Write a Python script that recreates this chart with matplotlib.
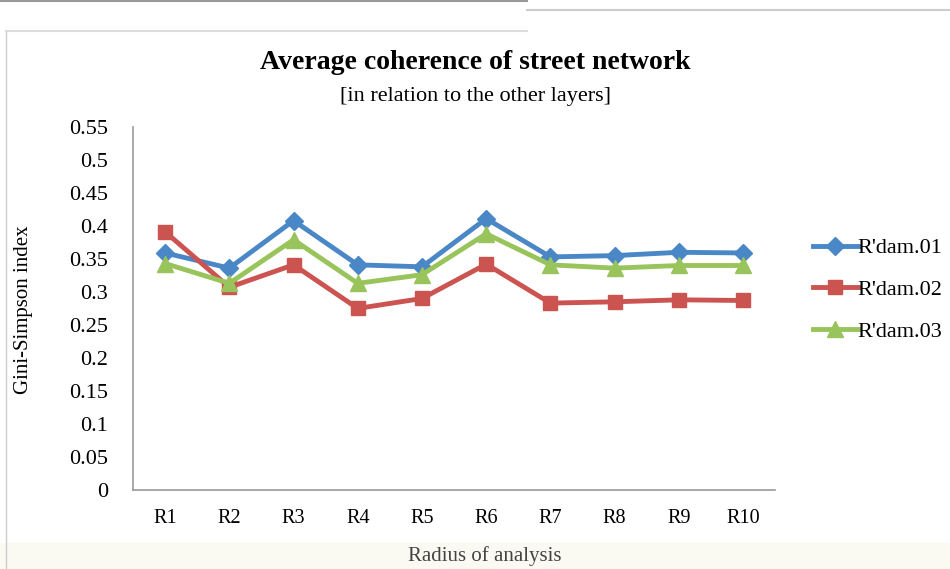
import matplotlib.pyplot as plt
from matplotlib.patches import Rectangle
from matplotlib.lines import Line2D

# Data
radii = ['R1', 'R2', 'R3', 'R4', 'R5', 'R6', 'R7', 'R8', 'R9', 'R10']
rdam01 = [0.359, 0.336, 0.408, 0.341, 0.338, 0.411, 0.353, 0.355, 0.360, 0.359]
rdam02 = [0.391, 0.307, 0.341, 0.275, 0.290, 0.342, 0.283, 0.285, 0.288, 0.287]
rdam03 = [0.343, 0.313, 0.379, 0.313, 0.326, 0.388, 0.341, 0.336, 0.340, 0.340]
yticks = [0, 0.05, 0.1, 0.15, 0.2, 0.25, 0.3, 0.35, 0.4, 0.45, 0.5, 0.55]

plt.rcParams['font.family'] = ['Liberation Serif', 'DejaVu Serif']

fig = plt.figure(figsize=(9.5, 5.69), dpi=100)

# background: frame and light footer strip
fig.patches.append(Rectangle((0, 0), 1, 0.045, transform=fig.transFigure,
                             facecolor='#fafaf2', edgecolor='none', zorder=-2))
fig.add_artist(Line2D([0.006, 0.006], [0, 0.945], transform=fig.transFigure,
                      color='#cccccc', lw=1))
fig.add_artist(Line2D([0.006, 0.555], [0.945, 0.945], transform=fig.transFigure,
                      color='#dddddd', lw=1.5))
fig.add_artist(Line2D([0.555, 1], [0.982, 0.982], transform=fig.transFigure,
                      color='#cccccc', lw=1.5))
fig.add_artist(Line2D([0, 0.555], [0.998, 0.998], transform=fig.transFigure,
                      color='#999999', lw=1.5))

ax = fig.add_axes([0.14, 0.139, 0.676, 0.638])
x = range(len(radii))

ax.plot(x, rdam01, color='#4a87c6', lw=3.5, marker='D', ms=9, label="R'dam.01")
ax.plot(x, rdam02, color='#cc5450', lw=3.5, marker='s', ms=10, label="R'dam.02")
ax.plot(x, rdam03, color='#99c45c', lw=3.5, marker='^', ms=11, label="R'dam.03")

ax.set_xlim(-0.5, len(radii) - 0.5)
ax.set_ylim(0, 0.55)
ax.set_xticks(list(x))
ax.set_xticklabels(radii)
ax.set_yticks(yticks)
ax.set_yticklabels(['0' if v == 0 else ('%g' % v) for v in yticks])
ax.tick_params(axis='x', length=0, labelsize=14.5, pad=14)
ax.tick_params(axis='y', length=0, labelsize=16, pad=18)

for s in ['top', 'right']:
    ax.spines[s].set_visible(False)
for s in ['left', 'bottom']:
    ax.spines[s].set_color('#999999')
    ax.spines[s].set_linewidth(1.2)

fig.text(0.5, 0.89, 'Average coherence of street network', ha='center', va='center',
         fontsize=20, fontweight='bold')
fig.text(0.5, 0.83, '[in relation to the other layers]', ha='center', va='center',
         fontsize=16)
fig.text(0.51, 0.022, 'Radius of analysis', ha='center', va='center', fontsize=15,
         color='#444444')
fig.text(0.025, 0.455, 'Gini-Simpson index', ha='center', va='center', rotation=90,
         fontsize=15)

ax.legend(loc='center left', bbox_to_anchor=(1.059, 0.551), frameon=False, fontsize=16,
          handlelength=2.0, handletextpad=0.0, labelspacing=0.95, borderaxespad=0,
          borderpad=0)

plt.savefig('out.png', dpi=100)
